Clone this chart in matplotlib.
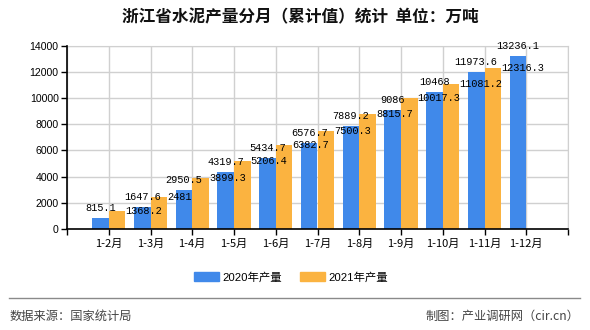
import numpy as np
import matplotlib as mpl
mpl.use('Agg')
import matplotlib.pyplot as plt
from matplotlib.lines import Line2D
from matplotlib.patches import Patch

plt.rcParams['font.family'] = ['Noto Sans CJK SC', 'DejaVu Sans']

title = '浙江省水泥产量分月（累计值）统计  单位：万吨'
categories = ['1-2月', '1-3月', '1-4月', '1-5月', '1-6月', '1-7月',
              '1-8月', '1-9月', '1-10月', '1-11月', '1-12月']
output_2020 = [815.1, 1647.6, 2950.5, 4319.7, 5434.7, 6576.7,
               7889.2, 9086, 10468, 11973.6, 13236.1]
output_2021 = [1368.2, 2481, 3899.3, 5206.4, 6382.7, 7500.3,
               8815.7, 10017.3, 11081.2, 12316.3]
series_names = ['2020年产量', '2021年产量']
source_text = '数据来源：国家统计局'
credit_text = '制图：产业调研网（cir.cn）'

blue = '#4089ea'
orange = '#fbb340'
W, H = 590, 330

fig = plt.figure(figsize=(W / 100, H / 100), dpi=100)
ax = fig.add_axes([67 / W, 1 - 229 / H, (568 - 67) / W, (229 - 45.7) / H])

w = 0.4
x1 = np.arange(1, len(output_2020) + 1)
x2 = np.arange(1, len(output_2021) + 1)
ax.bar(x1 - w / 2, output_2020, width=w, color=blue, zorder=3)
ax.bar(x2 + w / 2, output_2021, width=w, color=orange, zorder=3)

num_font = dict(family='Liberation Mono', fontsize=7.4, color='black')
for x, v in zip(x1, output_2020):
    ax.annotate('{:g}'.format(v), (x - w / 2, v), xytext=(0, 5),
                textcoords='offset pixels', ha='center', va='bottom',
                zorder=5, **num_font)
for x, v in zip(x2, output_2021):
    ax.annotate('{:g}'.format(v), (x + w, v), xytext=(0, 0),
                textcoords='offset pixels', ha='left', va='center',
                zorder=5, **num_font)

ax.set_xlim(0, len(categories) + 1)
ax.set_ylim(0, 14000)
ax.set_yticks(np.arange(0, 14001, 2000))
ax.set_xticks(np.arange(0, len(categories) + 2))
ax.set_xticklabels([''] + categories + [''], fontsize=8)
for lbl in ax.get_yticklabels():
    lbl.set_family('Liberation Sans')
    lbl.set_fontsize(7.6)
ax.tick_params(axis='both', direction='out', length=4, width=1, color='black', pad=2)
ax.tick_params(axis='x', pad=3)

ax.grid(True, color='#d0d0d0', linewidth=1, zorder=0)
ax.set_axisbelow(True)
for s in ['top', 'right']:
    ax.spines[s].set_color('#d0d0d0')
for s in ['left', 'bottom']:
    ax.spines[s].set_color('black')
    ax.spines[s].set_linewidth(1.2)
    ax.spines[s].set_zorder(4)

fig.text(300 / W, 1 - 17 / H, title, ha='center', va='center',
         fontsize=12, fontweight='bold', color='#111111')

handles = [Patch(color=blue), Patch(color=orange)]
fig.legend(handles, series_names, loc='center', bbox_to_anchor=(291 / W, 1 - 277 / H),
           ncol=2, frameon=False, handlelength=2.2, handleheight=0.9,
           handletextpad=0.3, columnspacing=1.6, borderpad=0,
           prop=dict(family=['Liberation Sans', 'Noto Sans CJK SC'], size=8.2))

fig.add_artist(Line2D([9 / W, 580 / W], [1 - 298 / H, 1 - 298 / H],
                      color='#8a8a8a', linewidth=1))
fig.text(10 / W, 1 - 316 / H, source_text, ha='left', va='center',
         fontsize=8.8, color='#444444')
fig.text(579 / W, 1 - 316 / H, credit_text, ha='right', va='center',
         fontsize=8.8, color='#444444')

fig.savefig('out.png', dpi=100)
